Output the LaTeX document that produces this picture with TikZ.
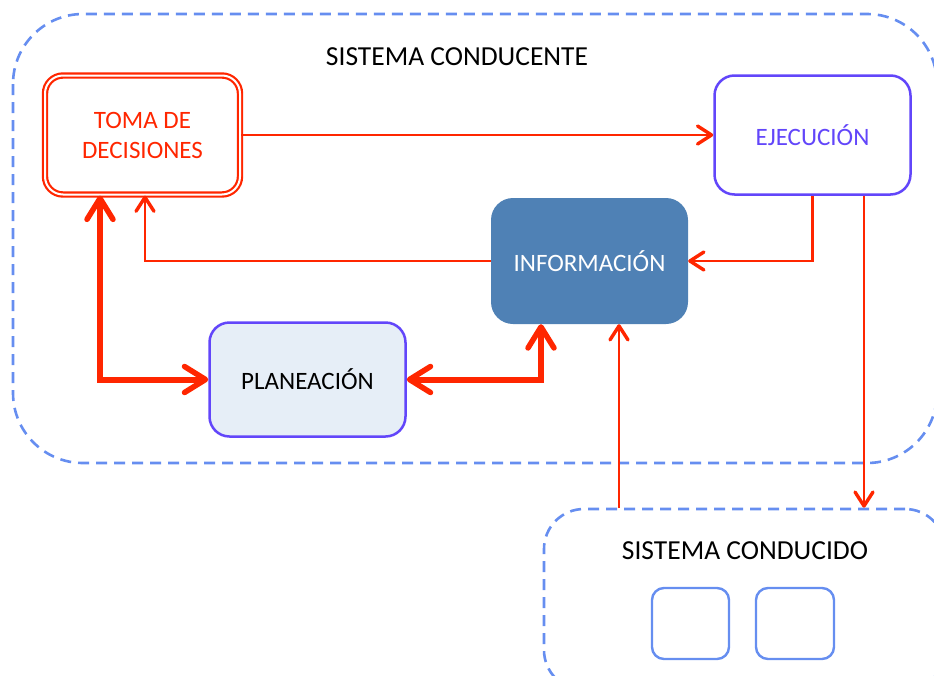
\documentclass[tikz,border=0pt]{standalone}
\usepackage{fontspec}
\setmainfont{Carlito}
\usetikzlibrary{arrows.meta}
\definecolor{flowred}{RGB}{255,38,0}
\definecolor{dashblue}{RGB}{102,142,240}
\definecolor{boxpurple}{RGB}{98,70,250}
\definecolor{infoblue}{RGB}{79,129,181}
\definecolor{planfill}{RGB}{230,238,247}

\begin{document}
\begin{tikzpicture}[x=1pt, y=-1pt,
    every node/.style={font=\fontsize{25}{30}\selectfont, align=center},
    sysbox/.style={draw=dashblue, line width=2.6pt, dash pattern=on 11pt off 7pt},
    thinarrow/.style={flowred, line width=2.8pt, -{Straight Barb[length=14pt, width=18pt, line width=3.4pt, round]}},
    thickarrow/.style={flowred, line width=6pt, {Straight Barb[length=21pt, width=26pt, line width=5.5pt, round]}-{Straight Barb[length=21pt, width=26pt, line width=5.5pt, round]}}]
    \useasboundingbox (0,0) rectangle (934,675);
    \clip (0,0) rectangle (934,675);
    % the two systems
    \draw[sysbox, rounded corners=70pt] (13,14) rectangle (937,463);
    \node (tconducente) at (457,57) {\fontsize{27.5}{33}\selectfont SISTEMA CONDUCENTE};
    \node[sysbox, rounded corners=40pt, minimum width=401pt, minimum height=181pt] (cond) at (744.5,599.5) {};
    \node (tconducido) at (745,551) {\fontsize{27.5}{33}\selectfont SISTEMA CONDUCIDO};
    \node[draw=dashblue, line width=2.4pt, rounded corners=12pt, minimum width=77pt, minimum height=71pt] (parte1) at (690.5,623.5) {};
    \node[draw=dashblue, line width=2.4pt, rounded corners=12pt, minimum width=78pt, minimum height=71pt] (parte2) at (795,623.5) {};
    % blocks
    \node[draw=flowred, double=white, double distance=2pt, line width=2.2pt, rounded corners=18pt,
          minimum width=195pt, minimum height=119pt, text=flowred] (toma) at (142.5,135) {TOMA DE\\DECISIONES};
    \node[draw=boxpurple, line width=2.5pt, rounded corners=20pt, fill=white,
          minimum width=196pt, minimum height=119pt, text=boxpurple] (ejec) at (812.5,135) {EJECUCIÓN};
    \node[fill=infoblue, rounded corners=22pt, minimum width=197pt, minimum height=126pt, text=white] (info) at (589.5,261) {INFORMACIÓN};
    \node[draw=boxpurple, line width=2.5pt, rounded corners=20pt, fill=planfill,
          minimum width=196pt, minimum height=114pt] (plan) at (307.5,379.5) {PLANEACIÓN};
    % flows
    \draw[thinarrow] (toma.east) -- (ejec.west);
    \draw[thinarrow] (ejec.south) |- (info.east);
    \draw[thinarrow] ([xshift=51.5pt]ejec.south) -- ([xshift=51.5pt]ejec.south |- cond.north);
    \draw[thinarrow] (info.west) -| ([xshift=2.5pt]toma.south);
    \draw[thinarrow] ([xshift=29.5pt]info.south |- cond.north) -- ([xshift=29.5pt]info.south);
    \draw[thickarrow] ([xshift=-42.5pt]toma.south) |- (plan.west);
    \draw[thickarrow] (plan.east) -| ([xshift=-48.5pt]info.south);
\end{tikzpicture}
\end{document}
